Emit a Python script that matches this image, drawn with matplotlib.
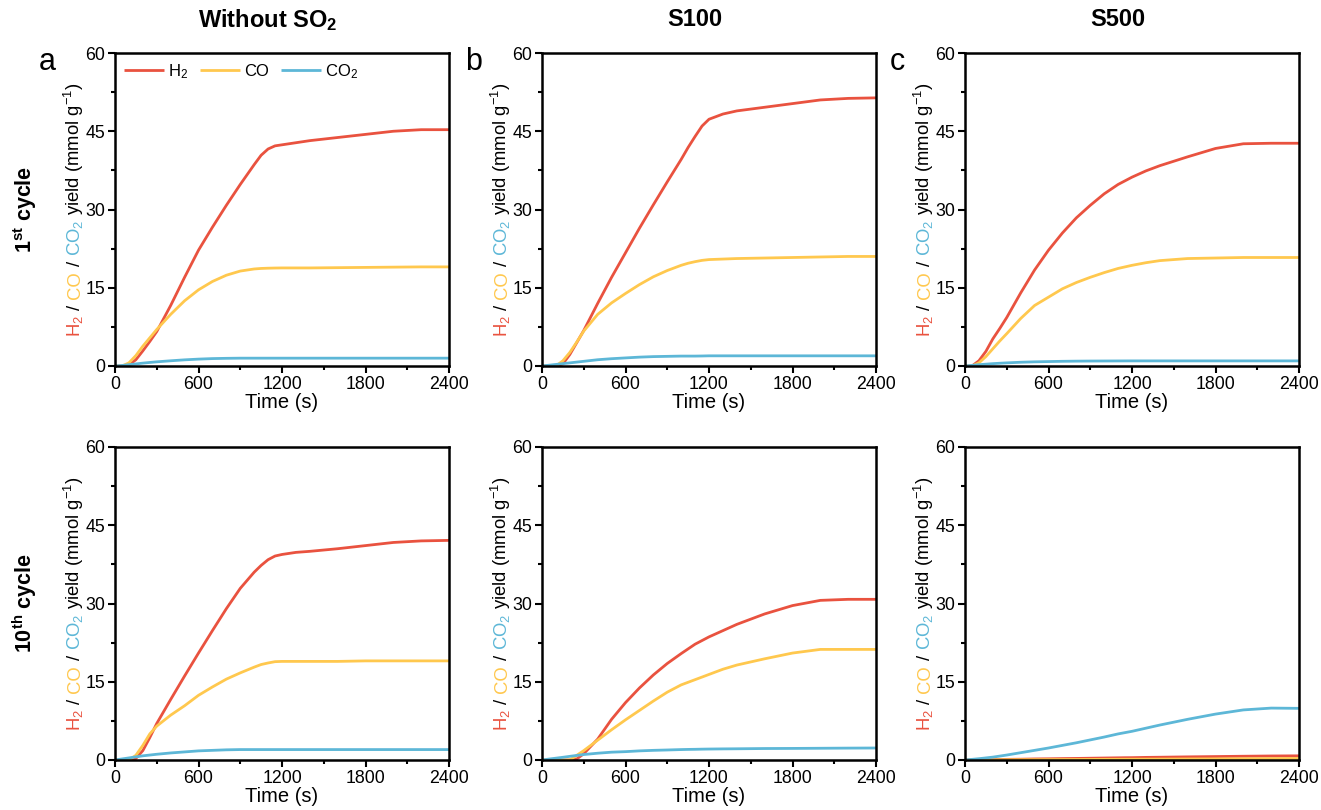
import matplotlib
matplotlib.use('Agg')
import matplotlib.pyplot as plt
from matplotlib.ticker import MultipleLocator

plt.rcParams['font.family'] = ['Liberation Sans', 'DejaVu Sans']
plt.rcParams['mathtext.fontset'] = 'custom'
plt.rcParams['mathtext.rm'] = 'Liberation Sans'
plt.rcParams['mathtext.it'] = 'Liberation Sans:italic'
plt.rcParams['mathtext.bf'] = 'Liberation Sans:bold'

RED = '#E9523F'
YEL = '#FFC84E'
BLUE = '#5DB7D7'

# time grid (s) used for every panel
t = [0, 50, 100, 150, 200, 250, 300, 400, 500, 600, 700, 800, 900, 1000,
     1050, 1100, 1150, 1200, 1300, 1400, 1600, 1800, 2000, 2200, 2400]

# 1st cycle, without SO2
h2_a1 = [0, 0, 0.2, 1.2, 2.9, 4.7, 6.6, 11.6, 17.0, 22.2, 26.6, 30.8, 34.8, 38.6,
         40.4, 41.6, 42.2, 42.4, 42.8, 43.2, 43.8, 44.4, 45.0, 45.3, 45.3]
co_a1 = [0, 0, 0.6, 2.0, 3.8, 5.4, 7.0, 9.9, 12.5, 14.6, 16.2, 17.4, 18.2, 18.6,
         18.7, 18.75, 18.78, 18.8, 18.8, 18.8, 18.85, 18.9, 18.95, 19.0, 19.0]
co2_a1 = [0, 0.1, 0.25, 0.4, 0.55, 0.68, 0.8, 1.0, 1.18, 1.32, 1.42, 1.47, 1.5, 1.5,
          1.5, 1.5, 1.5, 1.5, 1.5, 1.5, 1.5, 1.5, 1.5, 1.5, 1.5]

# 1st cycle, S100
h2_b1 = [0, 0, 0, 0.4, 2.2, 4.5, 6.8, 12.0, 17.0, 21.7, 26.4, 30.9, 35.3, 39.6,
         41.9, 44.0, 46.0, 47.3, 48.3, 48.9, 49.6, 50.3, 51.0, 51.3, 51.4]
co_b1 = [0, 0, 0, 1.0, 2.6, 4.6, 6.7, 9.9, 12.1, 13.9, 15.6, 17.1, 18.3, 19.3,
         19.7, 20.0, 20.25, 20.4, 20.5, 20.6, 20.7, 20.8, 20.9, 21.0, 21.0]
co2_b1 = [0, 0.15, 0.3, 0.45, 0.6, 0.75, 0.9, 1.2, 1.4, 1.55, 1.7, 1.8, 1.85, 1.9,
          1.9, 1.9, 1.92, 1.95, 1.95, 1.95, 1.95, 1.95, 1.95, 1.95, 1.95]

# 1st cycle, S500
h2_c1 = [0, 0, 1.0, 2.8, 5.2, 7.2, 9.3, 14.0, 18.4, 22.2, 25.5, 28.4, 30.8, 33.0,
         33.9, 34.8, 35.5, 36.2, 37.4, 38.4, 40.1, 41.7, 42.6, 42.7, 42.7]
co_c1 = [0, 0, 0.6, 1.8, 3.3, 4.8, 6.2, 9.1, 11.6, 13.2, 14.8, 16.0, 17.0, 17.9,
         18.3, 18.7, 19.0, 19.3, 19.8, 20.2, 20.6, 20.7, 20.8, 20.8, 20.8]
co2_c1 = [0, 0.12, 0.25, 0.35, 0.45, 0.53, 0.6, 0.72, 0.8, 0.85, 0.9, 0.93, 0.95, 0.96,
          0.965, 0.97, 0.975, 0.98, 0.98, 0.98, 0.98, 0.98, 0.98, 0.98, 0.98]

# 10th cycle, without SO2
h2_a10 = [0, 0, 0, 0.3, 1.8, 4.3, 7.0, 11.6, 16.1, 20.5, 24.8, 29.0, 32.9, 36.0,
          37.3, 38.4, 39.1, 39.4, 39.8, 40.0, 40.5, 41.1, 41.7, 42.0, 42.1]
co_a10 = [0, 0, 0, 0.9, 2.8, 5.0, 6.5, 8.6, 10.4, 12.4, 14.0, 15.5, 16.7, 17.8,
          18.3, 18.6, 18.85, 18.9, 18.9, 18.9, 18.9, 19.0, 19.0, 19.0, 19.0]
co2_a10 = [0, 0.2, 0.4, 0.6, 0.8, 0.95, 1.1, 1.35, 1.55, 1.75, 1.85, 1.95, 2.0, 2.0,
           2.0, 2.0, 2.0, 2.0, 2.0, 2.0, 2.0, 2.0, 2.0, 2.0, 2.0]

# 10th cycle, S100
h2_b10 = [0, 0, 0, 0, 0, 0.2, 1.2, 4.0, 7.8, 11.0, 13.8, 16.3, 18.5, 20.4,
          21.3, 22.2, 22.9, 23.6, 24.8, 26.0, 28.0, 29.6, 30.6, 30.8, 30.8]
co_b10 = [0, 0, 0, 0, 0, 0.9, 1.8, 3.8, 5.8, 7.7, 9.5, 11.3, 13.0, 14.4,
          14.9, 15.4, 15.9, 16.4, 17.4, 18.2, 19.4, 20.5, 21.2, 21.2, 21.2]
co2_b10 = [0, 0.18, 0.35, 0.52, 0.7, 0.88, 1.05, 1.3, 1.5, 1.6, 1.75, 1.85, 1.92, 2.0,
           2.03, 2.05, 2.08, 2.1, 2.13, 2.15, 2.2, 2.22, 2.25, 2.28, 2.3]

# 10th cycle, S500
h2_c10 = [0, 0.02, 0.04, 0.06, 0.08, 0.1, 0.12, 0.15, 0.2, 0.23, 0.27, 0.3, 0.34, 0.38,
          0.4, 0.42, 0.44, 0.45, 0.5, 0.53, 0.6, 0.66, 0.72, 0.77, 0.8]
co_c10 = [0, 0.01, 0.02, 0.02, 0.03, 0.04, 0.05, 0.06, 0.07, 0.08, 0.09, 0.1, 0.11, 0.13,
          0.135, 0.14, 0.145, 0.15, 0.16, 0.17, 0.2, 0.22, 0.25, 0.28, 0.3]
co2_c10 = [0, 0.12, 0.25, 0.4, 0.55, 0.75, 0.95, 1.4, 1.85, 2.3, 2.8, 3.3, 3.85, 4.4,
           4.7, 5.0, 5.25, 5.5, 6.1, 6.7, 7.8, 8.8, 9.6, 9.95, 9.9]

col_titles = ['Without SO$_\\mathbf{2}$', 'S100', 'S500']
row_titles = ['1$^\\mathbf{st}$ cycle', '10$^\\mathbf{th}$ cycle']
panel_letters = ['a', 'b', 'c']
series_labels = ['H$_2$', 'CO', 'CO$_2$']

data = [[(h2_a1, co_a1, co2_a1), (h2_b1, co_b1, co2_b1), (h2_c1, co_c1, co2_c1)],
        [(h2_a10, co_a10, co2_a10), (h2_b10, co_b10, co2_b10), (h2_c10, co_c10, co2_c10)]]

W, H = 1321, 810
fig = plt.figure(figsize=(W / 100, H / 100), dpi=100)

lefts = [115, 542, 965]
tops = [53, 447]
aw, ah = 334, 313
FS = 12.8

axes = []
for r in range(2):
    for c in range(3):
        ax = fig.add_axes([lefts[c] / W, 1 - (tops[r] + ah) / H, aw / W, ah / H])
        for ys, col, lab in zip(data[r][c], [RED, YEL, BLUE], series_labels):
            ax.plot(t, ys, color=col, lw=2.0, label=lab, solid_capstyle='butt')
        ax.set_xlim(0, 2400)
        ax.set_ylim(0, 60)
        ax.xaxis.set_major_locator(MultipleLocator(600))
        ax.xaxis.set_minor_locator(MultipleLocator(300))
        ax.yaxis.set_major_locator(MultipleLocator(15))
        ax.yaxis.set_minor_locator(MultipleLocator(7.5))
        ax.tick_params(which='major', direction='out', length=5, width=1.5,
                       labelsize=FS, pad=2)
        ax.tick_params(which='minor', direction='out', length=3, width=1.5)
        for s in ax.spines.values():
            s.set_linewidth(1.8)
        ax.set_xlabel('Time (s)', fontsize=14.5, labelpad=0)
        axes.append((r, c, ax))
        if r == 0 and c == 0:
            ax.legend(loc='upper left', ncol=3, frameon=False, fontsize=12,
                      handlelength=2.4, handletextpad=0.25, columnspacing=0.7,
                      borderaxespad=0.15, bbox_to_anchor=(0.0, 1.0))

# column titles, panel letters, row labels
for c in range(3):
    xc = (lefts[c] + aw / 2 - 14) / W
    fig.text(xc, 1 - 20 / H, col_titles[c], ha='center', va='center',
             fontsize=17, fontweight='bold')
    fig.text((lefts[c] - 68) / W, 1 - 62 / H, panel_letters[c], ha='center',
             va='center', fontsize=22)
for r in range(2):
    yc = 1 - (tops[r] + ah / 2) / H
    fig.text(25 / W, yc, row_titles[r], rotation=90, ha='center', va='center',
             fontsize=15.5, fontweight='bold')

# multi-coloured y labels
renderer = fig.canvas.get_renderer()
pieces = [('H$_2$', RED), ('/', 'black'), ('CO', YEL), ('/', 'black'),
          ('CO$_2$', BLUE), ('yield (mmol g$^{-1}$)', 'black')]
YFS = 13.3
gap = 0.28 * YFS * fig.dpi / 72
for r, c, ax in axes:
    texts = []
    for s, col in pieces:
        tx = fig.text(0, 0, s, color=col, rotation=90, rotation_mode='anchor',
                      ha='left', va='baseline', fontsize=YFS)
        texts.append(tx)
    lens = [tx.get_window_extent(renderer).height for tx in texts]
    total = sum(lens) + gap * (len(lens) - 1)
    bb = ax.get_window_extent(renderer)
    x = bb.x0 - 35
    y = (bb.y0 + bb.y1) / 2 - total / 2
    for tx, L in zip(texts, lens):
        tx.set_position((x / W, y / H))
        y += L + gap

fig.savefig('out.png', dpi=100)
